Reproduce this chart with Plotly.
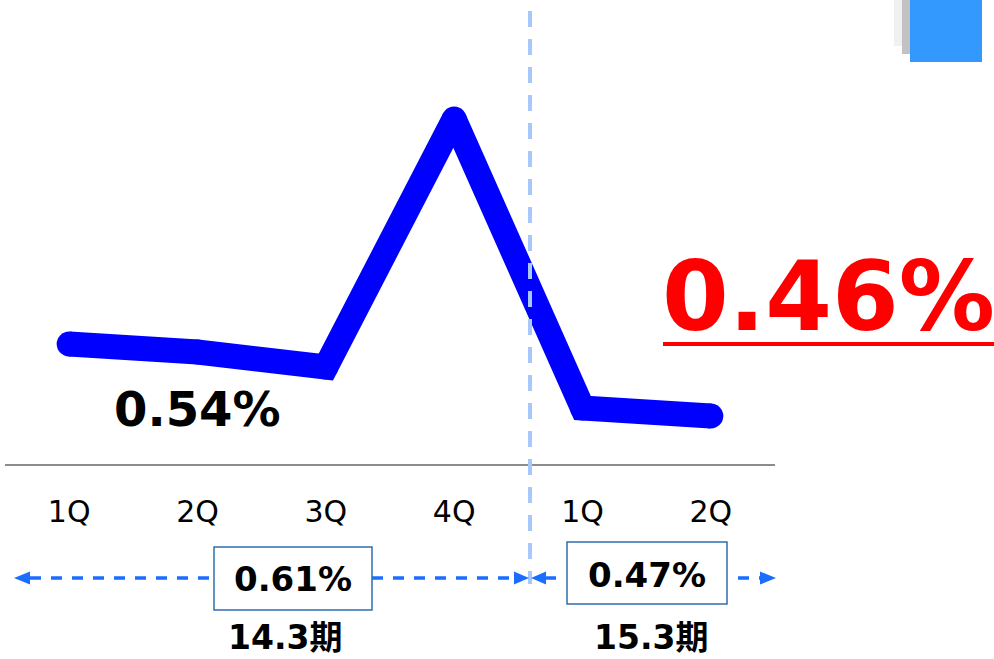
import plotly.graph_objects as go

# quarterly values
quarters = ["1Q", "2Q", "3Q", "4Q", "1Q", "2Q"]
rates = [0.54, 0.524, 0.494, 0.99, 0.412, 0.396]
period_labels = ["14.3期", "15.3期"]
period_avgs = ["0.61%", "0.47%"]
prev_label = "0.54%"
latest_label = "0.46%"

W, H = 994, 659
ML, MR, MT, MB = 5, 219, 0, 195
PW, PH = W - ML - MR, H - MT - MB

FONT = "DejaVu Sans, Noto Sans CJK JP, sans-serif"
ARROW = "#1a6dff"


def px(x):
    return (x - ML) / PW


def py(y):
    return (H - MB - y) / PH


fig = go.Figure()
fig.add_trace(go.Scatter(
    x=list(range(len(rates))), y=rates, mode="lines+markers",
    line=dict(color="#0000ff", width=25),
    marker=dict(color="#0000ff", size=25),
    cliponaxis=False, hoverinfo="skip",
))

shapes = []
# vertical dashed separator
shapes.append(dict(type="line", xref="paper", yref="paper",
                   x0=px(530), x1=px(530), y0=py(11), y1=py(584),
                   line=dict(color="#a8c8fb", width=4, dash="16px,12px"),
                   layer="above"))

# dashed arrow lines
for x0, x1 in [(30, 213), (372, 516), (545, 566), (738, 760)]:
    shapes.append(dict(type="line", xref="paper", yref="paper",
                       x0=px(x0), x1=px(x1), y0=py(578), y1=py(578),
                       line=dict(color=ARROW, width=3.5, dash="11px,10px")))


def tri(tip, base):
    return (f"M{px(tip)},{py(578)} L{px(base)},{py(571.5)} "
            f"L{px(base)},{py(584.5)} Z")


for tip, base in [(14, 30), (529, 514), (531, 546), (776, 760)]:
    shapes.append(dict(type="path", xref="paper", yref="paper",
                       path=tri(tip, base), fillcolor=ARROW,
                       line=dict(width=0)))

# boxes around the period averages
for x0, x1, y0, y1 in [(214, 372, 547, 610), (567, 727, 542, 604)]:
    shapes.append(dict(type="rect", xref="paper", yref="paper",
                       x0=px(x0), x1=px(x1), y0=py(y1), y1=py(y0),
                       line=dict(color="#2e6fad", width=1.5),
                       fillcolor="white"))

# red underline
shapes.append(dict(type="line", xref="paper", yref="paper",
                   x0=px(663), x1=px(994), y0=py(344), y1=py(344),
                   line=dict(color="#ff0000", width=4)))

# blue square with shadow, top right
for x0, x1, y1, col in [(894, 902, 46, "#f0f0f0"), (902, 910, 54, "#c2c2c2"),
                        (910, 982, 62, "#3399ff")]:
    shapes.append(dict(type="rect", xref="paper", yref="paper",
                       x0=px(x0), x1=px(x1), y0=py(y1), y1=py(0),
                       line=dict(width=0), fillcolor=col))

annotations = []


def label(text, x, y, size, color="black"):
    annotations.append(dict(text=text, xref="paper", yref="paper",
                            x=px(x), y=py(y), showarrow=False,
                            xanchor="center", yanchor="middle",
                            font=dict(family=FONT, size=size, color=color,
                                      weight="bold")))


label(prev_label, 198, 409, 48)
label(latest_label, 829, 297, 96, "#ff0000")
label(period_avgs[0], 293, 579, 34)
label(period_avgs[1], 647, 575, 34)
label(period_labels[0], 285, 637, 33)
label(period_labels[1], 651, 637, 33)

fig.update_layout(
    width=W, height=H,
    margin=dict(l=ML, r=MR, t=MT, b=MB),
    paper_bgcolor="white", plot_bgcolor="white",
    showlegend=False,
    shapes=shapes, annotations=annotations,
    xaxis=dict(range=[-0.5, 5.5], tickvals=list(range(len(quarters))),
               ticktext=quarters, showgrid=False, zeroline=False,
               showline=True, linecolor="#8c8c8c", linewidth=2,
               ticks="", ticklabelstandoff=20,
               tickfont=dict(family=FONT, size=30, color="black")),
    yaxis=dict(range=[0.30, 0.30 + 464 * 0.002], visible=False),
)

# drop the browser's default 8px body margin so the figure sits at 0,0
fig.write_html("out.html", config={"displayModeBar": False},
               post_script="document.body.style.margin='0';")
